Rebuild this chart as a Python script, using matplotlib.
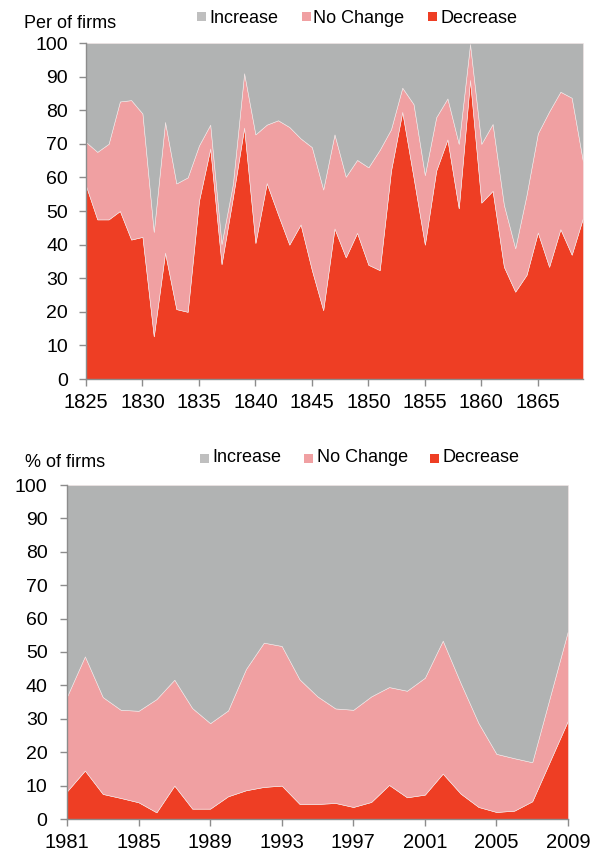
import matplotlib
matplotlib.use("Agg")
import matplotlib.pyplot as plt
from matplotlib.patches import Rectangle

plt.rcParams['font.family'] = ['Liberation Sans', 'DejaVu Sans']

# ---------------- data: 1825-1869 ----------------
years_a = list(range(1825, 1870))
decrease_a = [57.5, 47.5, 47.5, 50.0, 41.5, 42.3, 12.7, 37.6, 20.8, 20.0,
              53.0, 68.6, 34.2, 54.0, 74.8, 40.5, 58.3, 49.0, 40.0, 46.0,
              32.4, 20.5, 44.8, 36.2, 43.5, 34.0, 32.4, 62.0, 79.5, 60.0,
              40.0, 62.0, 71.3, 50.8, 89.0, 52.5, 56.0, 33.4, 26.0, 31.0,
              43.6, 33.4, 44.6, 37.0, 48.0]
nochange_a = [13.0, 20.1, 22.5, 32.6, 41.5, 36.7, 31.1, 38.9, 37.4, 40.0,
              16.5, 7.1, 6.0, 4.0, 16.2, 32.3, 17.4, 28.0, 35.0, 25.6,
              36.6, 35.9, 28.0, 24.0, 21.7, 29.0, 35.8, 12.3, 7.2, 21.8,
              20.7, 15.9, 12.2, 19.2, 10.7, 17.5, 19.9, 18.4, 12.9, 23.8,
              29.5, 46.2, 40.9, 46.7, 16.7]
increase_a = [29.5, 32.4, 30.0, 17.4, 17.0, 21.0, 56.2, 23.5, 41.8, 40.0,
              30.5, 24.3, 59.8, 42.0, 9.0, 27.2, 24.3, 23.0, 25.0, 28.4,
              31.0, 43.6, 27.2, 39.8, 34.8, 37.0, 31.8, 25.7, 13.3, 18.2,
              39.3, 22.1, 16.5, 30.0, 0.3, 30.0, 24.1, 48.2, 61.1, 45.2,
              26.9, 20.4, 14.5, 16.3, 35.3]
xticks_a = list(range(1825, 1870, 5))

# ---------------- data: 1981-2009 ----------------
years_b = list(range(1981, 2010))
decrease_b = [8.3, 14.5, 7.5, 6.3, 5.0, 2.0, 10.0, 3.1, 3.1, 6.8,
              8.6, 9.6, 10.0, 4.5, 4.5, 4.8, 3.6, 5.1, 10.2, 6.5,
              7.3, 13.6, 7.6, 3.6, 2.1, 2.5, 5.3, 17.4, 29.5]
nochange_b = [28.4, 34.2, 29.0, 26.4, 27.4, 33.9, 31.7, 30.1, 25.6, 25.7,
              36.3, 43.2, 41.8, 37.3, 32.2, 28.3, 29.1, 31.6, 29.3, 31.9,
              35.0, 39.8, 33.1, 25.1, 17.4, 15.7, 11.7, 19.3, 26.9]
increase_b = [63.3, 51.3, 63.5, 67.3, 67.6, 64.1, 58.3, 66.8, 71.3, 67.5,
              55.1, 47.2, 48.2, 58.2, 63.3, 66.9, 67.3, 63.3, 60.5, 61.6,
              57.7, 46.6, 59.3, 71.3, 80.5, 81.8, 83.0, 63.3, 43.6]
xticks_b = list(range(1981, 2010, 4))

yticks = list(range(0, 101, 10))
labels = ['Increase', 'No Change', 'Decrease']
titles = ['Per of firms', '% of firms']

C_INC = '#B1B3B3'
C_NC = '#F0A0A2'
C_DEC = '#EE3E24'
AXC = '#8C8C8C'

W, H = 608, 860
fig = plt.figure(figsize=(W / 100, H / 100), dpi=100)


def fx(px):
    return px / W


def fy(py):
    return 1 - py / H


def make_axes(rect_px, years, dec, nc, inc, xticks, ypad):
    l, t, r, b = rect_px
    ax = fig.add_axes([fx(l), fy(b), fx(r - l), (b - t) / H])
    ax.stackplot(years, dec, nc, inc, colors=[C_DEC, C_NC, C_INC],
                 edgecolor='#F4E8E8', linewidth=0.4)
    ax.set_xlim(years[0], years[-1])
    ax.set_ylim(0, 100)
    ax.set_xticks(xticks)
    ax.set_yticks(yticks)
    for s in ['top', 'right']:
        ax.spines[s].set_visible(False)
    for s in ['left', 'bottom']:
        ax.spines[s].set_color(AXC)
        ax.spines[s].set_linewidth(1.0)
    ax.tick_params(axis='both', colors=AXC, labelcolor='black',
                   direction='out', length=5, width=1.0)
    ax.tick_params(axis='y', pad=ypad, labelsize=14)
    ax.tick_params(axis='x', pad=5, labelsize=14.5)
    return ax


ax1 = make_axes((86, 43, 583, 379), years_a, decrease_a, nochange_a,
                increase_a, xticks_a, 8)
ax2 = make_axes((67, 485, 568, 819), years_b, decrease_b, nochange_b,
                increase_b, xticks_b, 9)


def header(title, tx, base, sw_x, txt_x, sw_top):
    fig.text(fx(tx), fy(base), title, fontsize=13, va='baseline', ha='left')
    for lab, c, sx, lx in zip(labels, [C_INC, C_NC, C_DEC], sw_x, txt_x):
        fig.patches.append(Rectangle((fx(sx), fy(sw_top + 9)), 9 / W, 9 / H,
                                     transform=fig.transFigure,
                                     facecolor=c if c != C_INC else '#BFBFBF',
                                     edgecolor='none'))
        fig.text(fx(lx), fy(base - 5), lab, fontsize=13, va='baseline',
                 ha='left')


header(titles[0], 24, 28, [197, 302, 428], [209, 313, 441], 12)
header(titles[1], 25, 467, [200, 304, 430], [212, 317, 443], 454)

fig.savefig('out.png', dpi=100)
